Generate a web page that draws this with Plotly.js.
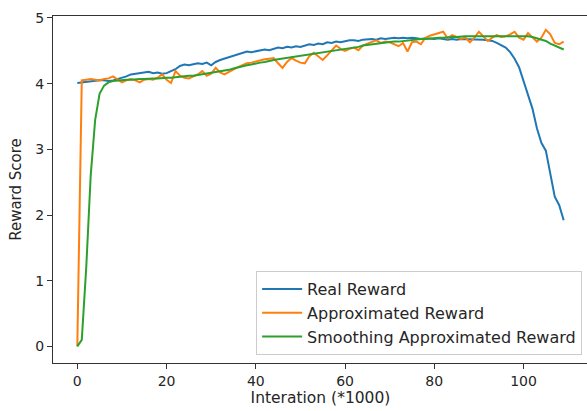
<!DOCTYPE html>
<html>
<head>
<meta charset="utf-8">
<script src="https://cdn.plot.ly/plotly-3.0.1.min.js"></script>
<style>
html,body{margin:0;padding:0;overflow:hidden;background:#fff;}
#chart{width:589px;height:411px;}
</style>
</head>
<body>
<div id="chart"></div>
<script>
// Iteration index (*1000)
const iterations = Array.from({length: 110}, (_, i) => i);

const realReward = [
  4.01,4.02,4.03,4.03,4.04,4.05,4.05,4.04,4.05,4.07,
  4.08,4.11,4.14,4.15,4.15,4.17,4.18,4.16,4.17,4.15,
  4.16,4.19,4.22,4.27,4.29,4.28,4.30,4.31,4.30,4.32,
  4.28,4.33,4.36,4.38,4.40,4.42,4.44,4.47,4.49,4.48,
  4.49,4.50,4.52,4.51,4.53,4.55,4.54,4.56,4.55,4.57,
  4.56,4.58,4.60,4.59,4.61,4.60,4.63,4.62,4.64,4.63,
  4.65,4.66,4.66,4.65,4.67,4.68,4.68,4.67,4.69,4.68,
  4.69,4.70,4.69,4.70,4.69,4.70,4.69,4.68,4.69,4.68,
  4.68,4.69,4.68,4.67,4.68,4.67,4.68,4.68,4.67,4.68,
  4.67,4.67,4.66,4.65,4.62,4.59,4.55,4.48,4.38,4.25,
  4.05,3.82,3.62,3.32,3.10,2.98,2.62,2.28,2.15,1.92
];

const approxReward = [
  0.00,4.05,4.06,4.07,4.06,4.05,4.07,4.08,4.11,4.06,
  4.02,4.05,4.07,4.05,4.02,4.06,4.07,4.06,4.09,4.14,
  4.06,4.01,4.19,4.12,4.09,4.08,4.11,4.14,4.19,4.12,
  4.15,4.24,4.17,4.14,4.18,4.22,4.25,4.28,4.31,4.32,
  4.34,4.36,4.37,4.38,4.39,4.31,4.24,4.33,4.39,4.35,
  4.32,4.31,4.42,4.47,4.41,4.36,4.43,4.50,4.58,4.53,
  4.50,4.53,4.55,4.51,4.58,4.61,4.63,4.66,4.62,4.64,
  4.63,4.60,4.57,4.62,4.49,4.63,4.64,4.60,4.70,4.73,
  4.75,4.77,4.79,4.69,4.74,4.71,4.68,4.70,4.63,4.70,
  4.79,4.72,4.65,4.70,4.74,4.71,4.72,4.75,4.79,4.70,
  4.67,4.77,4.70,4.64,4.70,4.82,4.75,4.62,4.60,4.64
];

const smoothReward = [
  0.00,0.10,1.20,2.60,3.45,3.85,3.97,4.02,4.04,4.05,
  4.05,4.06,4.06,4.07,4.07,4.07,4.08,4.08,4.08,4.09,
  4.09,4.09,4.10,4.10,4.11,4.12,4.12,4.13,4.14,4.15,
  4.16,4.17,4.18,4.20,4.21,4.23,4.25,4.26,4.28,4.29,
  4.31,4.32,4.33,4.35,4.36,4.37,4.38,4.39,4.40,4.41,
  4.42,4.43,4.45,4.46,4.47,4.48,4.49,4.49,4.50,4.52,
  4.53,4.54,4.55,4.56,4.58,4.59,4.60,4.61,4.61,4.62,
  4.63,4.64,4.64,4.65,4.66,4.66,4.67,4.68,4.68,4.69,
  4.69,4.70,4.70,4.71,4.71,4.71,4.72,4.72,4.72,4.72,
  4.73,4.73,4.73,4.73,4.73,4.73,4.73,4.73,4.73,4.73,
  4.73,4.72,4.71,4.69,4.67,4.65,4.61,4.58,4.55,4.52
];

const seriesNames = ["Real Reward", "Approximated Reward", "Smoothing Approximated Reward"];
const xTickVals = [0, 20, 40, 60, 80, 100];
const yTickVals = [0, 1, 2, 3, 4, 5];

const colors = ["#1f77b4", "#ff7f0e", "#2ca02c"];
const seriesData = [realReward, approxReward, smoothReward];

const traces = seriesData.map((ys, i) => ({
  x: iterations,
  y: ys,
  type: "scatter",
  mode: "lines",
  name: seriesNames[i],
  line: {color: colors[i], width: 2}
}));

const font = {family: "DejaVu Sans, sans-serif", color: "#262626"};

const layout = {
  width: 589,
  height: 411,
  margin: {l: 53, r: 1, t: 16, b: 48},
  paper_bgcolor: "#ffffff",
  plot_bgcolor: "#ffffff",
  font: Object.assign({size: 14}, font),
  showlegend: true,
  xaxis: {
    range: [-5.45, 114.45],
    tickvals: xTickVals,
    ticktext: xTickVals.map(String),
    ticks: "outside",
    ticklen: 5,
    tickwidth: 1,
    tickcolor: "#333",
    showline: true,
    linecolor: "#333",
    linewidth: 1,
    mirror: true,
    showgrid: false,
    zeroline: false,
    tickfont: Object.assign({size: 14}, font),
    title: {text: "Interation (*1000)", font: Object.assign({size: 15.5}, font), standoff: 4}
  },
  yaxis: {
    range: [-0.253, 5.03],
    tickvals: yTickVals,
    ticktext: yTickVals.map(String),
    ticks: "outside",
    ticklen: 5,
    tickwidth: 1,
    tickcolor: "#333",
    showline: true,
    linecolor: "#333",
    linewidth: 1,
    mirror: true,
    showgrid: false,
    zeroline: false,
    tickfont: Object.assign({size: 14}, font),
    title: {text: "Reward Score", font: Object.assign({size: 15}, font), standoff: 10}
  },
  legend: {
    x: 0.989,
    xanchor: "right",
    y: 0.023,
    yanchor: "bottom",
    bgcolor: "rgba(255,255,255,0.8)",
    bordercolor: "#cccccc",
    borderwidth: 1,
    font: Object.assign({size: 16}, font),
    itemwidth: 40,
    tracegroupgap: 0
  }
};

Plotly.newPlot("chart", traces, layout, {displayModeBar: false, staticPlot: true});
</script>
</body>
</html>
